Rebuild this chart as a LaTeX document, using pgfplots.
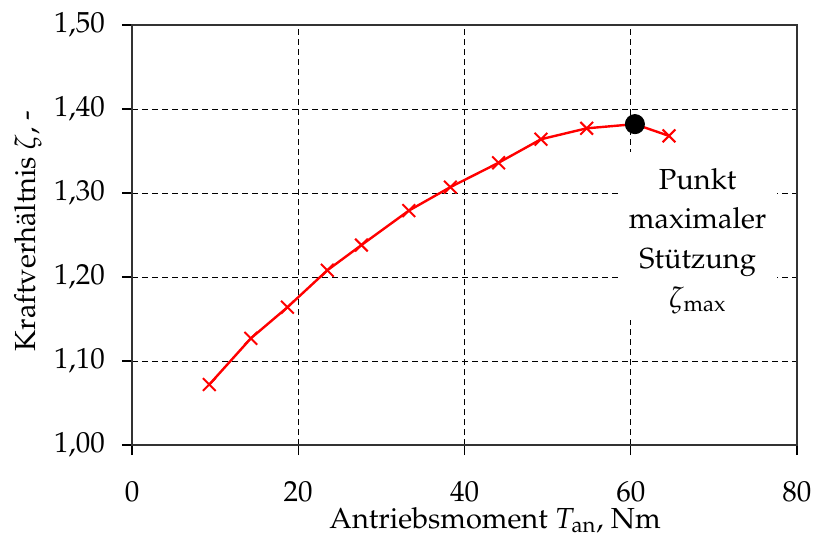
\documentclass[border=0pt]{standalone}
\usepackage[T1]{fontenc}
\usepackage{mathpazo}
\usepackage{pgfplots}
\pgfplotsset{compat=1.18}
\begin{document}
\begin{tikzpicture}[font=\fontsize{14.5}{17}\selectfont]
\useasboundingbox (-66pt,-45.5pt) rectangle (340.5pt,222.5pt);
\begin{axis}[
  scale only axis, width=332.5pt, height=210pt,
  at={(0,0)}, anchor=south west,
  xmin=0, xmax=80, ymin=1, ymax=1.5,
  xtick={0,20,40,60,80},
  ytick={1.0,1.1,1.2,1.3,1.4,1.5},
  grid=major,
  major grid style={black, dash pattern=on 3pt off 2pt, line width=0.5pt},
  tick align=outside, tick pos=left, major tick length=5pt,
  tick style={black, line width=0.6pt},
  axis line style={black!80, line width=0.8pt},
  yticklabel style={anchor=east, xshift=-5pt, /pgf/number format/use comma, /pgf/number format/fixed, /pgf/number format/fixed zerofill, /pgf/number format/precision=2},
  xticklabel style={anchor=base, yshift=-23pt, /pgf/number format/fixed, /pgf/number format/precision=0},
  xlabel={Antriebsmoment $T_{\mathrm{an}}$, Nm},
  ylabel={Kraftverh\"altnis $\zeta$, -},
  xlabel style={at={(axis description cs:0.546,0)}, anchor=base, yshift=-41.5pt},
  ylabel style={at={(axis description cs:-0.1564,0.51)}, anchor=center},
]
\addplot[red, line width=1.2pt, mark=x, mark size=4.5pt, mark options={line width=1pt}] coordinates {
(9.3,1.072) (14.3,1.127) (18.7,1.164) (23.5,1.208) (27.6,1.238) (33.3,1.279)
(38.3,1.307) (44.1,1.336) (49.2,1.364) (54.7,1.377) (60.5,1.382) (64.6,1.368)
};
\addplot[only marks, mark=*, mark size=4.8pt, black] coordinates {(60.5,1.382)};
\node[fill=white, minimum width=78.5pt, minimum height=84pt, inner sep=0pt] at (axis cs:68.1,1.249) {};
\node[align=center, anchor=north, inner sep=0pt, font=\fontsize{14.5}{19.7}\selectfont] at (axis cs:68.05,1.3298) {Punkt\\maximaler\\St\"utzung\\$\zeta_{\mathrm{max}}$};
\end{axis}
\end{tikzpicture}
\end{document}
